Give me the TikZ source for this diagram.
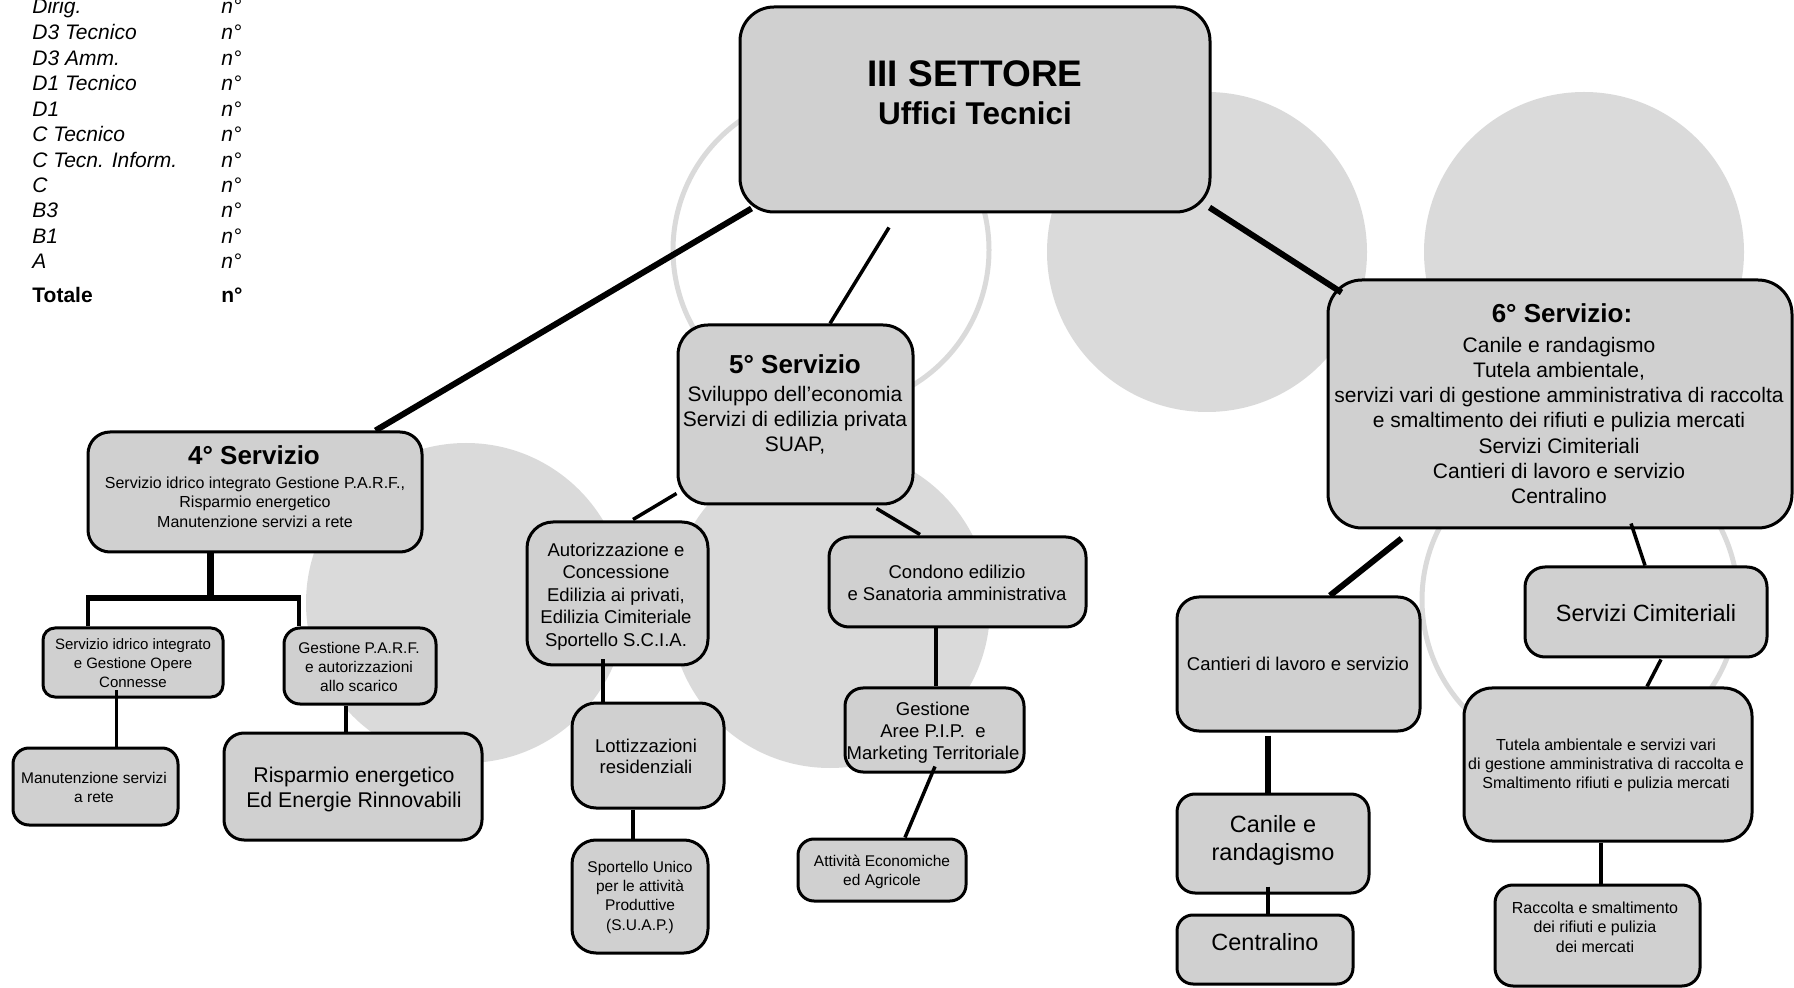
\documentclass[tikz,border=0pt]{standalone}
\usepackage{fontspec}
\setmainfont{Liberation Sans}
\usetikzlibrary{fit,calc}
\definecolor{boxgray}{gray}{0.815}
\definecolor{circgray}{gray}{0.855}
\newcommand\fsz[2]{\fontsize{#1pt}{#2pt}\selectfont}
\newcommand\strt{\rule{0pt}{0.85em}}
\begin{document}
\begin{tikzpicture}[x=0.5pt,y=-0.5pt,
  box/.style={draw=black, line width=1.5pt, fill=boxgray, inner sep=0pt, rounded corners=#1},
  box/.default=10pt,
  tx/.style={inner sep=0pt, align=center, anchor=north},
  tb/.style={inner sep=0pt, anchor=base},
  tl/.style={inner sep=0pt, anchor=base west, font=\fsz{10.5}{12}\itshape},
  tlb/.style={inner sep=0pt, anchor=base west, font=\fsz{10.5}{12}\bfseries},
  thin4/.style={line width=1.75pt},
  thick6/.style={line width=3pt},
  stem7/.style={line width=3.5pt},
  circ/.style={fill=circgray},
  ring/.style={draw=circgray, line width=2.5pt}]
\useasboundingbox (0,0) rectangle (1794,988);

% background circles
\draw[ring] (831,250) circle (79pt);
\fill[circ] (1207,252) circle (80pt);
\fill[circ] (1584,252) circle (80pt);
\draw[ring] (1580,600) circle (79pt);
\fill[circ] (466,603) circle (80pt);
\fill[circ] (830,608) circle (80pt);

% legend table
\node[tl] (r1) at (32,14) {Dirig.};          \node[tl] (n1) at (221,14) {n°};
\node[tl] (r2) at (32,40) {D3 Tecnico};      \node[tl] (n2) at (221,40) {n°};
\node[tl] (r3) at (32,66) {D3 Amm.};         \node[tl] (n3) at (221,66) {n°};
\node[tl] (r4) at (32,91) {D1 Tecnico};      \node[tl] (n4) at (221,91) {n°};
\node[tl] (r5) at (32,117) {D1};             \node[tl] (n5) at (221,117) {n°};
\node[tl] (r6) at (32,142) {C Tecnico};      \node[tl] (n6) at (221,142) {n°};
\node[tl] (r7) at (32,168) {C Tecn. Inform.};\node[tl] (n7) at (221,168) {n°};
\node[tl] (r8) at (32,193) {C};              \node[tl] (n8) at (221,193) {n°};
\node[tl] (r9) at (32,218) {B3};             \node[tl] (n9) at (221,218) {n°};
\node[tl] (r10) at (32,244) {B1};            \node[tl] (n10) at (221,244) {n°};
\node[tl] (r11) at (32,269) {A};             \node[tl] (n11) at (221,269) {n°};
\node[tlb] (r12) at (32,303) {Totale};       \node[tlb] (n12) at (221,303) {n°};

% boxes
\node[box=17pt, fit={(740,7) (1210,212)}] (main) {};
\node[box=11pt, fit={(88,432) (422,552)}] (s4) {};
\node[box=6pt, fit={(43,628) (223,697)}] (sid) {};
\node[box=8pt, fit={(284,628) (436,704)}] (parf) {};
\node[box=8pt, fit={(13,748) (178,825)}] (man) {};
\node[box=10pt, fit={(224,733) (482,840)}] (risp) {};
\node[box=15pt, fit={(678,325) (913,504)}] (s5) {};
\node[box=13pt, fit={(527,522) (708,665)}] (aut) {};
\node[box=10pt, fit={(829,537) (1086,627)}] (cond) {};
\node[box=9pt, fit={(845,688) (1024,772)}] (pip) {};
\node[box=8pt, fit={(798,839) (966,901)}] (act) {};
\node[box=12pt, fit={(572,703) (724,808)}] (lott) {};
\node[box=12pt, fit={(572,840) (708,953)}] (spo) {};
\node[box=17pt, fit={(1328,280) (1792,528)}] (s6) {};
\node[box=11pt, fit={(1177,597) (1420,731)}] (cant) {};
\node[box=9pt, fit={(1177,794) (1369,893)}] (can) {};
\node[box=8pt, fit={(1177,915) (1353,984)}] (cen) {};
\node[box=10pt, fit={(1525,567) (1767,657)}] (cim) {};
\node[box=14pt, fit={(1464,688) (1752,841)}] (tut) {};
\node[box=9pt, fit={(1495,885) (1700,986)}] (rac) {};

% texts
\node[tb, font=\fsz{18.5}{20}\bfseries] (tmain1) at (975,87) {III SETTORE};
\node[tb, font=\fsz{15.75}{18}\bfseries] (tmain2) at (975,125) {Uffici Tecnici};

\node[tb, font=\fsz{13}{15}\bfseries] (t4h) at (254,465) {4° Servizio};
\node[tx, font=\fsz{8}{9.75}] (t4) at (255,474.4) {\strt Servizio idrico integrato Gestione P.A.R.F.,\\Risparmio energetico\\Manutenzione servizi a rete};
\node[tx, font=\fsz{7.5}{9.5}] (tsid) at (133,636.25) {\strt Servizio idrico integrato\\e Gestione Opere\\Connesse};
\node[tx, font=\fsz{7.75}{9.5}] (tparf) at (359,639.8) {\strt Gestione P.A.R.F.\\e autorizzazioni\\allo scarico};
\node[tx, font=\fsz{7.75}{9.5}] (tman) at (94,769.8) {\strt Manutenzione servizi\\a rete};
\node[tx, font=\fsz{10.65}{12.5}] (trisp) at (354,763.9) {\strt Risparmio energetico\\Ed Energie Rinnovabili};

\node[tb, font=\fsz{13}{15}\bfseries] (t5h) at (795,374) {5° Servizio};
\node[tx, font=\fsz{10.5}{12.5}] (t5) at (795,383.15) {\strt Sviluppo dell’economia\\Servizi di edilizia privata\\SUAP,};
\node[tx, font=\fsz{9.25}{11.2}] (taut) at (616,540.3) {\strt Autorizzazione e\\Concessione\\Edilizia ai privati,\\Edilizia Cimiteriale\\Sportello S.C.I.A.};
\node[tx, font=\fsz{9.25}{11}] (tcond) at (957,562.3) {\strt Condono edilizio\\e Sanatoria amministrativa};
\node[tx, font=\fsz{9.25}{11}] (tpip) at (933,699.3) {\strt Gestione\\Aree P.I.P.\ \ e\\Marketing Territoriale};
\node[tx, font=\fsz{7.75}{9.5}] (tact) at (882,852.8) {\strt Attività Economiche\\ed Agricole};
\node[tx, font=\fsz{9.25}{10.5}] (tlott) at (646,736.3) {\strt Lottizzazioni\\residenziali};
\node[tx, font=\fsz{7.75}{9.65}] (tspo) at (640,858.8) {\strt Sportello Unico\\per le attività\\Produttive\\(S.U.A.P.)};

\node[tb, font=\fsz{13}{15}\bfseries] (t6h) at (1562,323) {6° Servizio:};
\node[tx, font=\fsz{10.5}{12.6}] (t6) at (1559,334.15) {\strt Canile e randagismo\\Tutela ambientale,\\servizi vari di gestione amministrativa di raccolta\\e smaltimento dei rifiuti e pulizia mercati\\Servizi Cimiteriali\\Cantieri di lavoro e servizio\\Centralino};
\node[tb, font=\fsz{9.25}{11}] (tcant) at (1298,670) {Cantieri di lavoro e servizio};
\node[tx, font=\fsz{11.75}{14}] (tcan) at (1273,812) {\strt Canile e\\randagismo};
\node[tb, font=\fsz{11.75}{14}] (tcen) at (1265,950) {Centralino};
\node[tb, font=\fsz{11.75}{14}] (tcim) at (1646,622) {Servizi Cimiteriali};
\node[tx, font=\fsz{8}{9.5}] (ttut) at (1606,736.4) {\strt Tutela ambientale e servizi vari\\di gestione amministrativa di raccolta e\\Smaltimento rifiuti e pulizia mercati};
\node[tx, font=\fsz{8}{9.75}] (trac) at (1595,899.4) {\strt Raccolta e smaltimento\\dei rifiuti e pulizia\\dei mercati};

% connectors
\draw[thick6] ($(main.south west)+(13,-5)$) -- ($(s4.north west)+(289,0)$);
\draw[thin4] ($(main.south)+(-86,14)$) -- ($(s5.north)+(34.5,0)$);
\draw[thick6] ($(main.south east)+(-2,-6)$) -- ($(s6.north west)+(15,14)$);

\coordinate (bar) at (210,598);
\coordinate (barL) at (88,598);
\coordinate (barR) at (299,598);
\draw[stem7] (s4.south -| bar) -- (bar);
\draw[thin4] (barL |- sid.north) -- (barL) -- (barR) -- (barR |- parf.north);
\draw[thick6] ($(barL)+(-1.75,0)$) -- ($(barR)+(1.75,0)$);
\draw[thin4] ($(sid.south west)+(75,-8)$) -- ($(man.north west)+(105,0)$);
\draw[thin4] ($(parf.south)+(-14,0)$) -- ($(risp.north)+(-7,0)$);

\draw[thin4] ($(s5.south west)+(0,-12)$) -- ($(aut.north)+(15.5,-1)$);
\draw[thin4] ($(s5.south east)+(-38,3)$) -- ($(cond.north)+(-37.5,-1)$);
\draw[thin4] ($(cond.south)+(-21.5,0)$) -- ($(pip.north)+(1.5,0)$);
\draw[thin4] ($(pip.south)+(0.5,-7)$) -- ($(act.north)+(23,0)$);
\draw[thin4] ($(aut.south)+(-14.5,-7)$) -- ($(lott.north)+(-45,0)$);
\draw[thin4] ($(lott.south)+(-15,0)$) -- ($(spo.north)+(-7,0)$);

\draw[thick6] ($(s6.south west)+(75,9)$) -- ($(cant.north)+(31.5,0)$);
\draw[thick6] ($(cant.south)+(-30.5,3)$) -- ($(can.north)+(-5,0)$);
\draw[thin4] ($(can.south)+(-5,-8)$) -- ($(cen.north)+(3,0)$);
\draw[thin4] ($(s6.south)+(71,-6)$) -- ($(cim.north)+(-1,0)$);
\draw[thin4] ($(cim.south)+(15,1)$) -- ($(tut.north)+(39,0)$);
\draw[thin4] ($(tut.south)+(-7,0)$) -- ($(rac.north)+(3.5,0)$);
\end{tikzpicture}
\end{document}
